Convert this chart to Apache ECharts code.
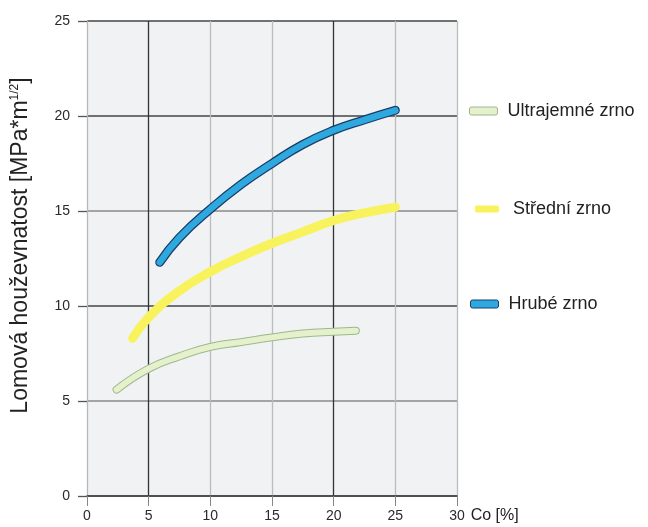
<!DOCTYPE html>
<html>
<head>
<meta charset="utf-8">
<script src="https://cdn.jsdelivr.net/npm/echarts@6/dist/echarts.min.js"></script>
<style>
html,body{margin:0;padding:0;background:#fff;}
#chart{width:648px;height:527px;}
</style>
</head>
<body>
<div id="chart"></div>
<script>
// Data
var seriesNames = ['Ultrajemné zrno', 'Střední zrno', 'Hrubé zrno'];
var xTicks = [0, 5, 10, 15, 20, 25, 30];
var yTicks = [0, 5, 10, 15, 20, 25];

var ultraX = [2.4, 5, 7.5, 10, 12.5, 15, 17.5, 20, 21.8];
var ultraY = [5.6, 6.7, 7.35, 7.85, 8.1, 8.35, 8.55, 8.65, 8.7];

var stredniX = [3.7, 5, 7.5, 10, 12.5, 15, 17.5, 20, 22.5, 25];
var stredniY = [8.3, 9.4, 10.8, 11.8, 12.6, 13.3, 13.9, 14.5, 14.9, 15.2];

var hrubeX = [5.9, 7.5, 10, 12.5, 15, 17.5, 20, 22.5, 25];
var hrubeY = [12.3, 13.6, 15.1, 16.4, 17.5, 18.5, 19.25, 19.8, 20.3];

function pairs(xs, ys) { return xs.map(function (x, i) { return [x, ys[i]]; }); }

var FONT = "'Liberation Sans', Arial, sans-serif";
var chart = echarts.init(document.getElementById('chart'), null, {renderer: 'canvas'});

function legendAt(name, left, top, fill, border, w, h) {
  return {
    show: true,
    padding: 0,
    data: [{name: name, itemStyle: {color: fill, borderColor: border || fill, borderWidth: border ? 1 : 0}}],
    left: left, top: top,
    orient: 'vertical',
    icon: 'roundRect',
    itemWidth: w, itemHeight: h,
    textStyle: {fontFamily: FONT, fontSize: 18, color: '#222', padding: [0, 0, 0, 33 - w]},
    selectedMode: false
  };
}

var option = {
  backgroundColor: '#ffffff',
  animation: false,
  grid: {
    left: 87, right: 191, top: 21, bottom: 31,
    show: true, backgroundColor: '#f1f2f4', borderWidth: 0
  },
  xAxis: {
    type: 'value', min: 0, max: 30, interval: 5,
    name: 'Co [%]', nameLocation: 'end', nameGap: 6,
    nameTextStyle: {fontFamily: FONT, fontSize: 16, color: '#222', verticalAlign: 'top', padding: [12, 0, 0, 0]},
    axisLine: {show: true, lineStyle: {color: '#444', width: 1.5}},
    axisTick: {show: true, length: 10, lineStyle: {color: '#888', width: 1}},
    axisLabel: {fontFamily: FONT, fontSize: 14, color: '#2a2a2a', margin: 13},
    splitLine: {show: true, lineStyle: {color: ['#bcbcbc', '#333333', '#bcbcbc', '#bcbcbc', '#333333', '#bcbcbc', '#bcbcbc'], width: 1.3}}
  },
  yAxis: {
    type: 'value', min: 0, max: 25, interval: 5,
    name: 'Lomová houževnatost [MPa*m{sup|1/2}]',
    nameLocation: 'middle', nameGap: 55,
    nameTextStyle: {
      fontFamily: FONT, fontSize: 23, color: '#222', padding: [0, 0, 0, 26],
      rich: {sup: {fontFamily: FONT, fontSize: 12, color: '#222', verticalAlign: 'top', lineHeight: 23}}
    },
    axisLine: {show: true, lineStyle: {color: '#b8b8b8', width: 1}},
    axisTick: {show: true, length: 9, lineStyle: {color: '#555', width: 1.3}},
    axisLabel: {fontFamily: FONT, fontSize: 14, color: '#2a2a2a', margin: 17},
    splitLine: {show: true, lineStyle: {color: ['#444444', '#8a8a8a', '#444444', '#8a8a8a', '#444444', '#444444'], width: 1.5}}
  },
  legend: [
    legendAt(seriesNames[0], 469, 102, '#e4f1cc', '#9db88a', 28, 8),
    legendAt(seriesNames[1], 475, 200, '#f8f35c', null, 24, 7),
    legendAt(seriesNames[2], 470, 295, '#2ea9e0', '#1b3c68', 28, 8)
  ],
  series: [
    {
      name: '_ultraOutline', type: 'line', smooth: true, showSymbol: false, silent: true,
      data: pairs(ultraX, ultraY),
      lineStyle: {color: '#9db88a', width: 8, cap: 'round'}, z: 2
    },
    {
      name: seriesNames[0], type: 'line', smooth: true, showSymbol: false,
      data: pairs(ultraX, ultraY), color: '#e4f1cc',
      lineStyle: {color: '#e4f1cc', width: 6, cap: 'round'}, z: 3
    },
    {
      name: seriesNames[1], type: 'line', smooth: true, showSymbol: false,
      data: pairs(stredniX, stredniY), color: '#f8f35c',
      lineStyle: {color: '#f8f35c', width: 9, cap: 'round'}, z: 4
    },
    {
      name: '_hrubeOutline', type: 'line', smooth: true, showSymbol: false, silent: true,
      data: pairs(hrubeX, hrubeY),
      lineStyle: {color: '#1b3c68', width: 9, cap: 'round'}, z: 5
    },
    {
      name: seriesNames[2], type: 'line', smooth: true, showSymbol: false,
      data: pairs(hrubeX, hrubeY), color: '#2ea9e0',
      lineStyle: {color: '#2ea9e0', width: 6.5, cap: 'round'}, z: 6
    }
  ]
};
chart.setOption(option);
</script>
</body>
</html>
